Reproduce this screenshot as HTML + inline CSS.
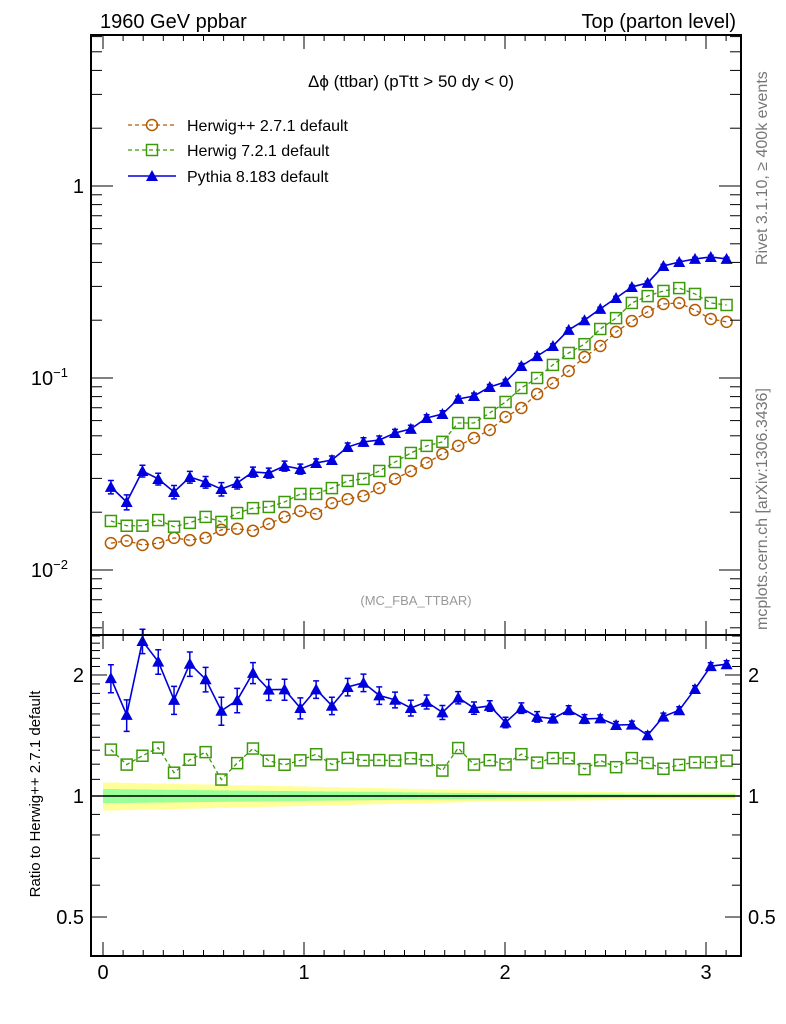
<!DOCTYPE html>
<html><head><meta charset="utf-8"><style>
body{margin:0;background:#fff;}
svg{display:block;font-family:"Liberation Sans",sans-serif;}
</style></head><body>
<svg id="chart" width="786" height="1024" viewBox="0 0 786 1024">
<text x="100" y="28" font-size="20">1960 GeV ppbar</text>
<text x="736" y="28" font-size="20" text-anchor="end">Top (parton level)</text>
<text x="411" y="87" font-size="17" text-anchor="middle">Δϕ (ttbar) (pTtt &gt; 50 dy &lt; 0)</text>
<text x="416" y="605" font-size="13" fill="#999" text-anchor="middle">(MC_FBA_TTBAR)</text>
<text transform="translate(767,265) rotate(-90)" font-size="16" fill="#777">Rivet 3.1.10, ≥ 400k events</text>
<text transform="translate(767,630) rotate(-90)" font-size="16" fill="#777">mcplots.cern.ch [arXiv:1306.3436]</text>
<text transform="translate(40,794) rotate(-90)" font-size="15" text-anchor="middle">Ratio to Herwig++ 2.7.1 default</text>
<g id="legend">
 <g>
  <line x1="128" y1="125" x2="176" y2="125" stroke="#b35a00" stroke-dasharray="4,3" stroke-width="1.3"/>
  <circle cx="152" cy="125" r="5.5" fill="none" stroke="#b35a00" stroke-width="1.5"/>
  <text x="187" y="131" font-size="16">Herwig++ 2.7.1 default</text></g>
 <g>
  <line x1="128" y1="150" x2="176" y2="150" stroke="#3c9a0a" stroke-dasharray="4,3" stroke-width="1.3"/>
  <rect x="146.5" y="144.5" width="11" height="11" fill="none" stroke="#3c9a0a" stroke-width="1.5"/>
  <text x="187" y="156" font-size="16">Herwig 7.2.1 default</text></g>
 <g>
  <line x1="128" y1="176" x2="176" y2="176" stroke="#0000dd" stroke-width="1.5"/>
  <path d="M152,170 L158,181 L146,181 Z" fill="#0000dd"/>
  <text x="187" y="182" font-size="16">Pythia 8.183 default</text></g>
</g>
<g id="bands"></g>
<g id="main"></g>
<g id="ratio"></g>
<g id="axes"></g>
</svg>
<script>
const herwigpp=[0.0138,0.0142,0.0135,0.0138,0.0147,0.0143,0.0147,0.0162,0.0164,0.0160,0.0174,0.0189,0.0203,0.0196,0.0223,0.0234,0.0243,0.0267,0.0298,0.0328,0.0361,0.0402,0.0443,0.0487,0.0536,0.0626,0.0698,0.0826,0.0942,0.1088,0.1286,0.1468,0.1738,0.198,0.221,0.243,0.246,0.226,0.203,0.196];
const herwig7=[0.0180,0.0170,0.0170,0.0182,0.0168,0.0176,0.0189,0.0178,0.0198,0.0210,0.0213,0.0226,0.0249,0.0249,0.0267,0.0291,0.0298,0.0328,0.0365,0.0407,0.0443,0.0465,0.0583,0.0583,0.0658,0.0750,0.0887,0.100,0.117,0.135,0.150,0.180,0.205,0.246,0.267,0.284,0.294,0.274,0.246,0.240];
const pythia=[0.0271,0.0226,0.0328,0.0298,0.0255,0.0305,0.0287,0.0264,0.0284,0.0324,0.0320,0.0348,0.0336,0.0361,0.0374,0.0437,0.0465,0.0475,0.0517,0.0543,0.0619,0.0649,0.0778,0.0806,0.0898,0.0954,0.1155,0.130,0.1468,0.178,0.200,0.229,0.261,0.298,0.313,0.383,0.402,0.417,0.427,0.417];
const pythiaRelErr=[0.08,0.09,0.07,0.07,0.08,0.07,0.07,0.08,0.07,0.06,0.06,0.06,0.06,0.05,0.05,0.05,0.05,0.05,0.045,0.045,0.04,0.04,0.035,0.035,0.03,0.03,0.03,0.03,0.025,0.025,0.025,0.02,0.02,0.02,0.02,0.02,0.02,0.02,0.02,0.02];
const refRelErr=[0.08,0.078,0.076,0.074,0.072,0.07,0.068,0.066,0.064,0.062,0.06,0.058,0.056,0.054,0.052,0.05,0.048,0.046,0.044,0.042,0.04,0.038,0.036,0.034,0.032,0.03,0.029,0.028,0.027,0.026,0.025,0.024,0.023,0.022,0.021,0.02,0.02,0.02,0.02,0.02];
const xTicks=[0,1,2,3];
const mainTicks=[{v:1,l:"1"},{v:0.1,l:"10"},{v:0.01,l:"10"}];
const ratioTicks=[{v:2,l:"2"},{v:1,l:"1"},{v:0.5,l:"0.5"}];

const NS="http://www.w3.org/2000/svg";
const L=91,R=741,T=35,MB=635,B=956;
const N=herwigpp.length, W=Math.PI/N;
const X=v=>103+v*201;
const Y=v=>186-Math.log10(v)*192;
const YR=v=>796-Math.log10(v)*402;
function mk(p,tag,a){const e=document.createElementNS(NS,tag);for(const k in a)e.setAttribute(k,a[k]);p.appendChild(e);return e;}
const main=document.getElementById('main'),ratio=document.getElementById('ratio'),axes=document.getElementById('axes'),bands=document.getElementById('bands');

for(let i=0;i<N;i++){
 const x0=X(i*W),x1=X((i+1)*W);
 const y=mk(bands,'rect',{x:x0,y:YR(1+refRelErr[i]),width:x1-x0+0.5,height:YR(1-refRelErr[i])-YR(1+refRelErr[i]),fill:'#ffff99'});
 
 
 const g=mk(bands,'rect',{x:x0,y:YR(1+refRelErr[i]/2),width:x1-x0+0.5,height:YR(1-refRelErr[i]/2)-YR(1+refRelErr[i]/2),fill:'#99ff99'});
 
 
}
const one=mk(bands,'line',{x1:L,x2:R,y1:YR(1),y2:YR(1),stroke:'#000','stroke-width':1.5});



function series(g,vals,yf,color,dash,marker,name,err){
 const pts=vals.map((v,i)=>[X((i+0.5)*W),yf(v)]);
 const pl=mk(g,'polyline',{points:pts.map(p=>p.join(',')).join(' '),fill:'none',stroke:color,'stroke-width':dash?1.3:1.6,'stroke-dasharray':dash?'4,3':'none'});
 
 
 pts.forEach((p,i)=>{
  let m;
  if(err){const hi=yf(vals[i]*(1+err[i])),lo=yf(vals[i]*(1-err[i]));
   mk(g,'path',{d:`M${p[0]},${hi}V${lo}M${p[0]-3},${hi}H${p[0]+3}M${p[0]-3},${lo}H${p[0]+3}`,stroke:color,'stroke-width':1.5});}
  if(marker==='circle'){m=mk(g,'circle',{cx:p[0],cy:p[1],r:5.5,fill:'none',stroke:color,'stroke-width':1.5});}
  else if(marker==='square'){m=mk(g,'rect',{x:p[0]-5.5,y:p[1]-5.5,width:11,height:11,fill:'none',stroke:color,'stroke-width':1.5});}
  else{m=mk(g,'path',{d:`M${p[0]},${p[1]-6}L${p[0]+6},${p[1]+5}L${p[0]-6},${p[1]+5}Z`,fill:color});}
  
  
 });
}
series(main,herwigpp,Y,'#b35a00',true,'circle','herwigpp');
series(main,herwig7,Y,'#3c9a0a',true,'square','herwig7');
series(main,pythia,Y,'#0000dd',false,'tri','pythia',pythiaRelErr);
series(ratio,herwig7.map((v,i)=>v/herwigpp[i]),YR,'#3c9a0a',true,'square','herwig7-ratio');
series(ratio,pythia.map((v,i)=>v/herwigpp[i]),YR,'#0000dd',false,'tri','pythia-ratio',pythiaRelErr);

const f1=mk(axes,'rect',{x:L,y:T,width:R-L,height:MB-T,fill:'none',stroke:'#000','stroke-width':2});


const f2=mk(axes,'rect',{x:L,y:MB,width:R-L,height:B-MB,fill:'none',stroke:'#000','stroke-width':2});


for(let v=0;v<=3.15;v+=0.1){
 const x=X(v),maj=Math.abs(v-Math.round(v))<1e-6,len=maj?14:6;
 [[T,1],[MB,1],[MB,-1],[B,-1]].forEach(([y0,s])=>mk(axes,'line',{x1:x,x2:x,y1:y0,y2:y0+s*len,stroke:'#000','stroke-width':1}));
}
xTicks.forEach(v=>{const t=mk(axes,'text',{x:X(v),y:979,'font-size':20,'text-anchor':'middle'});t.textContent=v;
 
 });
for(let d=-3;d<=0;d++)for(let k=1;k<10;k++){
 const v=k*Math.pow(10,d),y=Y(v);if(y<T||y>MB)continue;
 const len=k===1?22:11;
 mk(axes,'line',{x1:L,x2:L+len,y1:y,y2:y,stroke:'#000'});
 mk(axes,'line',{x1:R,x2:R-len,y1:y,y2:y,stroke:'#000'});
}
mainTicks.forEach(o=>{const t=mk(axes,'text',{x:o.v===1?84:68,y:Y(o.v)+7,'font-size':20,'text-anchor':'end'});
 t.textContent=o.l;
 
 
 if(o.v!==1){const s=mk(t,'tspan',{dy:-8,'font-size':13});s.textContent=o.v===0.1?'−1':'−2';}});
[0.4,0.5,0.6,0.7,0.8,0.9,1,1.1,1.2,1.3,1.4,1.5,1.6,1.7,1.8,1.9,2,2.1,2.2,2.3,2.4,2.5].forEach(v=>{
 const y=YR(v);if(y<MB||y>B)return;const maj=(v===0.5||v===1||v===2),len=maj?16:9;
 mk(axes,'line',{x1:L,x2:L+len,y1:y,y2:y,stroke:'#000'});
 mk(axes,'line',{x1:R,x2:R-len,y1:y,y2:y,stroke:'#000'});
});
ratioTicks.forEach(o=>{
 const t=mk(axes,'text',{x:84,y:YR(o.v)+7,'font-size':20,'text-anchor':'end'});t.textContent=o.l;
 
 
 const t2=mk(axes,'text',{x:748,y:YR(o.v)+7,'font-size':20});t2.textContent=o.l;
 
 
});
</script>
</body></html>
